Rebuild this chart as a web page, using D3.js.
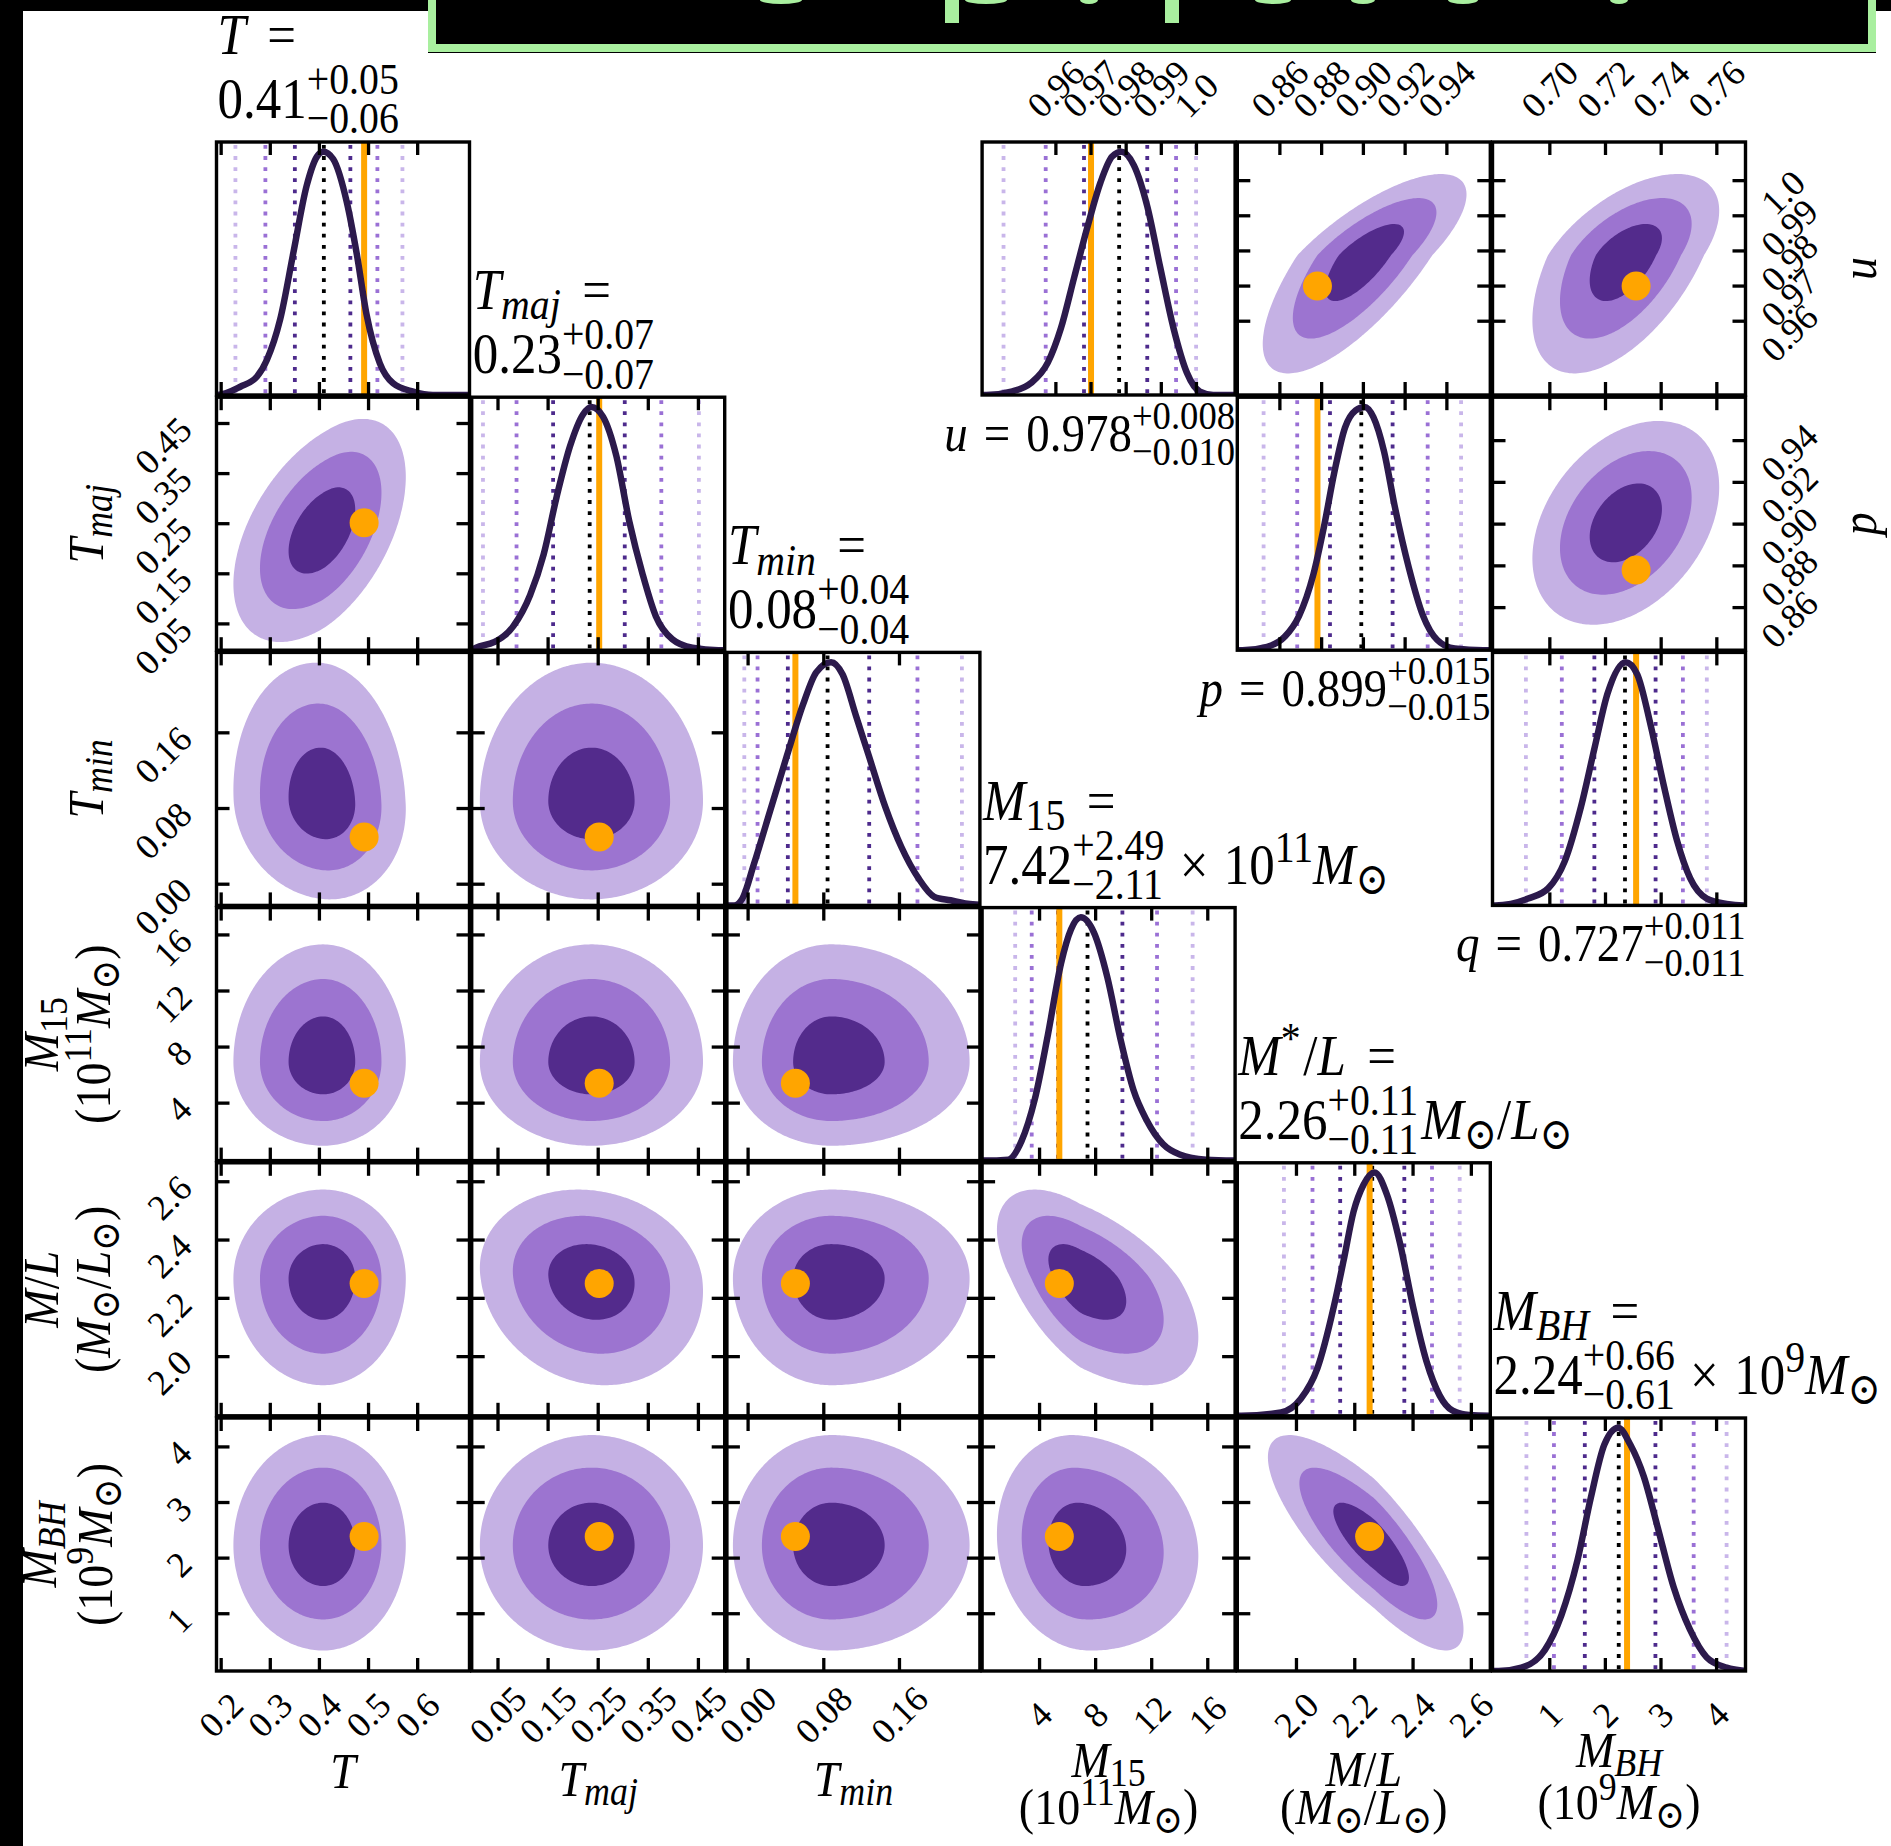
<!DOCTYPE html>
<html>
<head>
<meta charset="utf-8">
<script src="https://cdn.jsdelivr.net/npm/d3@7"></script>
<style>
  html, body { margin: 0; padding: 0; background: #fff; }
  svg { display: block; }
  text { font-family: "Liberation Serif", "DejaVu Serif", serif; fill: #000; }
</style>
</head>
<body>
<svg id="fig" width="1891" height="1846"></svg>
<script>
// ---------------- posterior summaries ----------------
const paramKeys = ["T", "Tmaj", "Tmin", "M15", "ML", "MBH", "u", "p", "q"];
const medians  = [0.409, 0.233, 0.084, 7.42, 2.26, 2.24, 0.978, 0.899, 0.727];
const errHi    = [0.054, 0.070, 0.044, 2.49, 0.11, 0.66, 0.008, 0.015, 0.011];
const errLo    = [0.059, 0.073, 0.042, 2.11, 0.11, 0.61, 0.010, 0.015, 0.011];
const decimals = [2, 2, 2, 2, 2, 2, 3, 3, 3];
// 2-sigma and 3-sigma quantiles
const q2Lo = [0.290, 0.087, 0.010, 3.44, 2.055, 1.075, 0.9571, 0.8683, 0.7043];
const q2Hi = [0.518, 0.376, 0.179, 12.38, 2.465, 3.588, 0.9942, 0.9308, 0.7478];
const q3Lo = [0.229, 0.020, -0.004, 2.26, 1.957, 0.58, 0.9451, 0.8522, 0.6914];
const q3Hi = [0.569, 0.451, 0.226, 14.92, 2.56, 4.18, 0.9999, 0.9468, 0.7564];
// true input values
const truths = [0.491, 0.252, 0.050, 5.41, 2.251, 2.39, 0.970, 0.878, 0.731];

// axis ranges and ticks
const domains = [[0.1905, 0.7055], [-0.0025, 0.5025], [-0.0224, 0.245], [-0.1, 17.95],
                 [1.797, 2.665], [-0.03, 4.52], [0.939, 1.011], [0.8396, 0.9608], [0.6794, 0.7703]];
const tickValues = [[0.2, 0.3, 0.4, 0.5, 0.6], [0.05, 0.15, 0.25, 0.35, 0.45], [0, 0.08, 0.16],
                    [4, 8, 12, 16], [2.0, 2.2, 2.4, 2.6], [1, 2, 3, 4],
                    [0.96, 0.97, 0.98, 0.99, 1.0], [0.86, 0.88, 0.90, 0.92, 0.94], [0.70, 0.72, 0.74, 0.76]];
const tickLabels = [["0.2", "0.3", "0.4", "0.5", "0.6"], ["0.05", "0.15", "0.25", "0.35", "0.45"],
                    ["0.00", "0.08", "0.16"], ["4", "8", "12", "16"], ["2.0", "2.2", "2.4", "2.6"],
                    ["1", "2", "3", "4"], ["0.96", "0.97", "0.98", "0.99", "1.0"],
                    ["0.86", "0.88", "0.90", "0.92", "0.94"], ["0.70", "0.72", "0.74", "0.76"]];

// marginal densities: [value, density relative to peak]
const densT = [[0.1905,0],[0.192,0],[0.239,0.034],[0.273,0.076],[0.293,0.144],[0.320,0.31],[0.347,0.585],
  [0.374,0.86],[0.395,0.98],[0.408,1.0],[0.428,0.97],[0.456,0.79],[0.476,0.58],[0.496,0.33],[0.523,0.13],
  [0.550,0.048],[0.591,0.014],[0.631,0],[0.7055,0]];
const densTmaj = [[-0.0025,0],[0.0055,0.01],[0.042,0.033],[0.081,0.10],[0.114,0.226],[0.141,0.393],[0.167,0.63],
  [0.194,0.84],[0.220,0.97],[0.2365,1.0],[0.2595,0.96],[0.286,0.80],[0.312,0.53],[0.339,0.31],[0.365,0.14],
  [0.398,0.045],[0.438,0.01],[0.49,0],[0.5025,0]];
const densTmin = [[-0.0224,0],[-0.0148,0],[-0.006,0.028],[0.006,0.168],[0.0234,0.39],[0.041,0.615],[0.058,0.825],
  [0.072,0.958],[0.0877,1.0],[0.0998,0.95],[0.114,0.78],[0.1276,0.615],[0.145,0.405],[0.162,0.24],[0.180,0.112],
  [0.197,0.035],[0.214,0.021],[0.232,0.007],[0.245,0.003]];
const densM15 = [[-0.1,0],[0.12,0],[1.77,0.004],[2.71,0.08],[3.65,0.25],[4.59,0.516],[5.53,0.81],[6.24,0.95],
  [6.94,1.0],[7.88,0.937],[8.83,0.755],[9.77,0.50],[10.7,0.29],[11.65,0.165],[12.82,0.067],[14.0,0.025],
  [15.88,0.004],[17.95,0]];
const densML = [[1.797,0],[1.811,0],[1.947,0.014],[2.015,0.07],[2.072,0.196],[2.128,0.448],[2.162,0.64],
  [2.196,0.84],[2.230,0.95],[2.268,1.0],[2.31,0.91],[2.355,0.71],[2.40,0.448],[2.446,0.224],[2.491,0.084],
  [2.536,0.021],[2.593,0.003],[2.665,0]];
const densMBH = [[-0.03,0],[0.08,0],[0.49,0.014],[0.91,0.086],[1.21,0.23],[1.50,0.457],[1.74,0.714],[1.98,0.93],
  [2.23,1.0],[2.45,0.93],[2.69,0.8],[2.93,0.6],[3.23,0.343],[3.52,0.171],[3.82,0.057],[4.18,0.014],[4.52,0]];
const densU = [[0.939,0],[0.9402,0],[0.9473,0.014],[0.9529,0.049],[0.9577,0.133],[0.9614,0.273],[0.9652,0.483],
  [0.969,0.692],[0.9727,0.874],[0.976,0.98],[0.9787,1.0],[0.9822,0.944],[0.986,0.776],[0.9897,0.524],
  [0.9935,0.273],[0.9973,0.091],[1.001,0.014],[1.0048,0],[1.011,0]];
const densP = [[0.8396,0],[0.842,0],[0.8539,0.014],[0.8624,0.056],[0.8692,0.141],[0.876,0.31],[0.8811,0.507],
  [0.8861,0.732],[0.8912,0.915],[0.8963,0.986],[0.9006,1.0],[0.9048,0.958],[0.9099,0.817],[0.915,0.592],
  [0.9218,0.338],[0.9286,0.141],[0.9354,0.042],[0.9438,0.007],[0.9574,0],[0.9608,0]];
const densQ = [[0.6794,0],[0.6804,0],[0.6922,0.028],[0.6994,0.07],[0.7053,0.18],[0.7112,0.406],[0.716,0.644],
  [0.7207,0.87],[0.7273,1.0],[0.7314,0.95],[0.7362,0.742],[0.741,0.49],[0.7457,0.266],[0.7504,0.112],
  [0.7564,0.028],[0.7635,0.006],[0.7695,0],[0.7703,0]];
const densities = [densT, densTmaj, densTmin, densM15, densML, densMBH, densU, densP, densQ];

// joint credible-region widths (below / above the peak) and pair correlations
const spreadLo = [0.060, 0.073, 0.034, 1.96, 0.12, 0.62, 0.0110, 0.016, 0.011];
const spreadHi = [0.055, 0.073, 0.048, 2.75, 0.10, 0.65, 0.0076, 0.016, 0.011];
const pairX   = [0, 0, 1, 0, 1, 2, 0, 1, 2, 3, 0, 1, 2, 3, 4, 7, 8, 8];
const pairY   = [1, 2, 2, 3, 3, 3, 4, 4, 4, 4, 5, 5, 5, 5, 5, 6, 6, 7];
const pairRho = [0.48, -0.08, 0.0, 0.0, 0.0, 0.0, 0.0, -0.12, 0.0, -0.55, 0.0, 0.0, 0.0, -0.1, -0.8, 0.75, 0.55, 0.35];
const contourRadii = [1.18, 2.15, 3.05];   // 50 / 90 / 99 % regions

// ---------------- layout ----------------
const X0 = 216.5, Y0 = 142, STEP = 255.2, PW = 253, PH = 253;
const colOf = [0, 1, 2, 3, 4, 5, 3, 4, 5];
const rowOf = [0, 1, 2, 3, 4, 5, 0, 1, 2];
const colX = c => X0 + c * STEP;
const rowY = r => Y0 + r * STEP;

const fills = ["#c5b1e4", "#9c74d0", "#532b8c"];
const quantColors = ["#c9b6ea", "#9a70d5", "#4d2a8c", "#000000", "#4d2a8c", "#9a70d5", "#c9b6ea"];
const curveColor = "#2c1a4c";
const truthColor = "#ffa500";

const svg = d3.select("#fig");
svg.append("rect").attr("width", 1891).attr("height", 1846).attr("fill", "#fff");
const defs = svg.append("defs");
const layerPanels = svg.append("g");
const layerText = svg.append("g");

// text measuring helper
const meas = svg.append("text").attr("x", -2000).attr("y", -2000);
function tw(str, size, it) {
  meas.attr("font-size", size).attr("font-style", it ? "italic" : "normal").text(str);
  return meas.node().getComputedTextLength();
}
const SCRIPT = 0.78;
function layoutMath(pieces, size) {
  const out = []; let cx = 0;
  for (const p of pieces) {
    if (p.gap !== undefined) { cx += p.gap * size; continue; }
    if (p.stack) {
      const ss = size * SCRIPT;
      const a = tw(p.stack[0], ss, false), b = tw(p.stack[1], ss, false);
      out.push({ t: p.stack[0], x: cx, y: -0.42 * size, fs: ss, it: false });
      out.push({ t: p.stack[1], x: cx, y: 0.27 * size, fs: ss, it: false });
      cx += Math.max(a, b); continue;
    }
    const fs = p.k ? size * SCRIPT : size;
    const y = p.k === "sup" ? -0.38 * size : p.k === "sub" ? 0.18 * size : 0;
    out.push({ t: p.t, x: cx, y, fs, it: !!p.it });
    cx += tw(p.t, fs, !!p.it);
  }
  return { items: out, width: cx };
}
// one <text> element per expression, each piece a positioned tspan
function drawMath(parent, pieces, size, x, y, anchor, rot, stretch) {
  const L = layoutMath(pieces, size);
  const off = anchor === "end" ? -L.width : anchor === "middle" ? -L.width / 2 : 0;
  const tr = `translate(${x},${y})` + (rot ? ` rotate(${rot})` : "") + (stretch ? ` scale(1,${stretch})` : "");
  const t = parent.append("text").attr("transform", tr);
  t.selectAll("tspan").data(L.items).join("tspan")
    .attr("x", d => d.x + off).attr("y", d => d.y)
    .attr("font-size", d => d.fs).attr("font-style", d => d.it ? "italic" : "normal")
    .text(d => d.t);
  return t;
}

function xScale(k) { const c = colOf[k]; return d3.scaleLinear().domain(domains[k]).range([colX(c), colX(c) + PW]); }
function yScale(k) { const r = rowOf[k]; return d3.scaleLinear().domain(domains[k]).range([rowY(r) + PH, rowY(r)]); }
function modeOf(k) { return d3.greatest(densities[k], d => d[1])[0]; }

let clipId = 0;
function panelGroup(px, py) {
  const id = "clip" + (clipId++);
  defs.append("clipPath").attr("id", id).append("rect").attr("x", px).attr("y", py).attr("width", PW).attr("height", PH);
  const g = layerPanels.append("g");
  const inner = g.append("g").attr("clip-path", `url(#${id})`);
  return { g, inner };
}
function drawTicks(g, px, py, xk, yk) {
  const TL = 13, SW = 3.3;
  const xs = xScale(xk);
  tickValues[xk].forEach(t => {
    const x = xs(t);
    g.append("line").attr("x1", x).attr("x2", x).attr("y1", py).attr("y2", py + TL).attr("stroke", "#000").attr("stroke-width", SW);
    g.append("line").attr("x1", x).attr("x2", x).attr("y1", py + PH - TL).attr("y2", py + PH).attr("stroke", "#000").attr("stroke-width", SW);
  });
  if (yk !== null) {
    const ys = yScale(yk);
    tickValues[yk].forEach(t => {
      const y = ys(t);
      g.append("line").attr("x1", px).attr("x2", px + TL).attr("y1", y).attr("y2", y).attr("stroke", "#000").attr("stroke-width", SW);
      g.append("line").attr("x1", px + PW - TL).attr("x2", px + PW).attr("y1", y).attr("y2", y).attr("stroke", "#000").attr("stroke-width", SW);
    });
  }
  g.append("rect").attr("x", px).attr("y", py).attr("width", PW).attr("height", PH)
    .attr("fill", "none").attr("stroke", "#000").attr("stroke-width", 3.4);
}

// ---------------- 1-D marginal panels ----------------
function drawDiag(k) {
  const px = colX(colOf[k]), py = rowY(rowOf[k]);
  const { g, inner } = panelGroup(px, py);
  const xs = xScale(k);
  const ys = d3.scaleLinear().domain([0, 1.04]).range([py + PH, py]);
  const qv = [q3Lo[k], q2Lo[k], medians[k] - errLo[k], medians[k], medians[k] + errHi[k], q2Hi[k], q3Hi[k]];
  inner.selectAll("line.q").data(qv).join("line").attr("class", "q")
    .attr("x1", d => xs(d)).attr("x2", d => xs(d)).attr("y1", py + 3).attr("y2", py + PH)
    .attr("stroke", (d, i) => quantColors[i]).attr("stroke-width", 3.8).attr("stroke-dasharray", "3.8 7.3");
  inner.append("line").attr("x1", xs(truths[k])).attr("x2", xs(truths[k])).attr("y1", py).attr("y2", py + PH)
    .attr("stroke", truthColor).attr("stroke-width", 6);
  inner.append("path").datum(densities[k])
    .attr("d", d3.line().x(d => xs(d[0])).y(d => ys(d[1])).curve(d3.curveMonotoneX))
    .attr("fill", "none").attr("stroke", curveColor).attr("stroke-width", 6.5).attr("stroke-linejoin", "round");
  drawTicks(g, px, py, k, null);
}

// ---------------- 2-D joint panels ----------------
function drawPair(i) {
  const xk = pairX[i], yk = pairY[i], rho = pairRho[i];
  const px = colX(colOf[xk]), py = rowY(rowOf[yk]);
  const { g, inner } = panelGroup(px, py);
  const xs = xScale(xk), ys = yScale(yk);
  const mx = modeOf(xk), my = modeOf(yk);
  const n = 120;
  const vals = new Float64Array(n * n);
  for (let j = 0; j < n; j++) {
    const yv = ys.invert(py + (j + 0.5) * PH / n);
    const b = (yv - my) / (yv < my ? spreadLo[yk] : spreadHi[yk]);
    for (let c = 0; c < n; c++) {
      const xv = xs.invert(px + (c + 0.5) * PW / n);
      const a = (xv - mx) / (xv < mx ? spreadLo[xk] : spreadHi[xk]);
      const q = (a * a - 2 * rho * a * b + b * b) / (1 - rho * rho);
      vals[j * n + c] = Math.exp(-q / 2);
    }
  }
  const thr = contourRadii.map(r => Math.exp(-r * r / 2)).sort(d3.ascending);
  const cs = d3.contours().size([n, n]).thresholds(thr)(vals);
  const proj = d3.geoTransform({ point: function (x, y) { this.stream.point(px + x * PW / n, py + y * PH / n); } });
  const path = d3.geoPath(proj);
  inner.selectAll("path.c").data(cs).join("path").attr("class", "c")
    .attr("d", path).attr("fill", (d, idx) => fills[idx]);
  inner.append("circle").attr("cx", xs(truths[xk])).attr("cy", ys(truths[yk])).attr("r", 14.5).attr("fill", truthColor);
  drawTicks(g, px, py, xk, yk);
}

for (let k = 0; k < 9; k++) drawDiag(k);
for (let i = 0; i < pairX.length; i++) drawPair(i);

// ---------------- tick labels ----------------
const TF = 36;
// bottom row
for (let k = 0; k < 6; k++) {
  const xs = xScale(k);
  tickValues[k].forEach((t, i) => {
    layerText.append("text").attr("transform", `translate(${xs(t)},${rowY(5) + PH + 44}) rotate(-45)`)
      .attr("text-anchor", "middle").attr("dominant-baseline", "central").attr("font-size", TF).text(tickLabels[k][i]);
  });
}
// left column
for (let k = 1; k < 6; k++) {
  const ys = yScale(k);
  tickValues[k].forEach((t, i) => {
    layerText.append("text").attr("transform", `translate(${colX(0) - 31},${ys(t)}) rotate(-45)`)
      .attr("text-anchor", "end").attr("dominant-baseline", "central").attr("font-size", TF).text(tickLabels[k][i]);
  });
}
// top of the upper block
for (let k = 6; k < 9; k++) {
  const xs = xScale(k);
  tickValues[k].forEach((t, i) => {
    const half = 0.3536 * (tw(tickLabels[k][i], TF, false) + 0.68 * TF);
    layerText.append("text").attr("transform", `translate(${xs(t)},${rowY(0) - 22 - half}) rotate(-45)`)
      .attr("text-anchor", "middle").attr("dominant-baseline", "central").attr("font-size", TF).text(tickLabels[k][i]);
  });
}
// right side of the upper block
for (let k = 6; k < 8; k++) {
  const ys = yScale(k);
  tickValues[k].forEach((t, i) => {
    const half = 0.3536 * (tw(tickLabels[k][i], TF, false) + 0.68 * TF);
    layerText.append("text").attr("transform", `translate(${colX(5) + PW + 13 + half},${ys(t) + 12}) rotate(-45)`)
      .attr("text-anchor", "middle").attr("dominant-baseline", "central").attr("font-size", TF).text(tickLabels[k][i]);
  });
}

// ---------------- axis labels ----------------
const sun = "\u2299";
const axisLabels = [
  [[{ t: "T", it: 1 }]],
  [[{ t: "T", it: 1 }, { t: "maj", it: 1, k: "sub" }]],
  [[{ t: "T", it: 1 }, { t: "min", it: 1, k: "sub" }]],
  [[{ t: "M", it: 1 }, { t: "15", k: "sub" }],
   [{ t: "(" }, { t: "10" }, { t: "11", k: "sup" }, { t: "M", it: 1 }, { t: sun, k: "sub" }, { t: ")" }]],
  [[{ t: "M", it: 1 }, { t: "/" }, { t: "L", it: 1 }],
   [{ t: "(" }, { t: "M", it: 1 }, { t: sun, k: "sub" }, { t: "/" }, { t: "L", it: 1 }, { t: sun, k: "sub" }, { t: ")" }]],
  [[{ t: "M", it: 1 }, { t: "BH", it: 1, k: "sub" }],
   [{ t: "(" }, { t: "10" }, { t: "9", k: "sup" }, { t: "M", it: 1 }, { t: sun, k: "sub" }, { t: ")" }]],
  [[{ t: "u", it: 1 }]],
  [[{ t: "p", it: 1 }]]
];
const AF = 46, AS = 1.1;
const bottomBase = [[1788], [1796], [1796], [1777, 1824], [1786, 1824], [1767, 1819]];
const leftBase = [null, [103], [103], [58, 110], [58, 110], [56, 112]];
for (let k = 0; k < 6; k++) {
  const cx = colX(k) + PW / 2;
  axisLabels[k].forEach((line, li) => drawMath(layerText, line, AF, cx, bottomBase[k][li], "middle", 0, AS));
}
for (let k = 1; k < 6; k++) {
  const cy = rowY(k) + PH / 2;
  axisLabels[k].forEach((line, li) => drawMath(layerText, line, AF, leftBase[k][li], cy, "middle", -90, AS));
}
for (let k = 6; k < 8; k++) {
  const cy = rowY(rowOf[k]) + PH / 2;
  drawMath(layerText, axisLabels[k][0], AF, 1876, cy, "middle", -90, AS);
}

// ---------------- titles ----------------
const titleNames = [
  [{ t: "T", it: 1 }, { gap: 0.42 }, { t: "=" }],
  [{ t: "T", it: 1 }, { t: "maj", it: 1, k: "sub" }, { gap: 0.42 }, { t: "=" }],
  [{ t: "T", it: 1 }, { t: "min", it: 1, k: "sub" }, { gap: 0.42 }, { t: "=" }],
  [{ t: "M", it: 1 }, { t: "15", k: "sub" }, { gap: 0.42 }, { t: "=" }],
  [{ t: "M", it: 1 }, { t: "*", k: "sup" }, { gap: 0.05 }, { t: "/" }, { t: "L", it: 1 }, { gap: 0.42 }, { t: "=" }],
  [{ t: "M", it: 1 }, { t: "BH", it: 1, k: "sub" }, { gap: 0.42 }, { t: "=" }],
  [{ t: "u", it: 1 }, { gap: 0.34 }, { t: "=" }],
  [{ t: "p", it: 1 }, { gap: 0.34 }, { t: "=" }],
  [{ t: "q", it: 1 }, { gap: 0.34 }, { t: "=" }]
];
const titleUnits = [[], [], [],
  [{ gap: 0.3 }, { t: "\u00d7" }, { gap: 0.3 }, { t: "10" }, { t: "11", k: "sup" }, { t: "M", it: 1 }, { t: sun, k: "sub" }],
  [{ gap: 0.06 }, { t: "M", it: 1 }, { t: sun, k: "sub" }, { t: "/" }, { t: "L", it: 1 }, { t: sun, k: "sub" }],
  [{ gap: 0.3 }, { t: "\u00d7" }, { gap: 0.3 }, { t: "10" }, { t: "9", k: "sup" }, { t: "M", it: 1 }, { t: sun, k: "sub" }],
  [], [], []];
function valuePieces(k) {
  const d = decimals[k];
  return [{ t: medians[k].toFixed(d) }, { stack: ["+" + errHi[k].toFixed(d), "\u2212" + errLo[k].toFixed(d)] }];
}
const TS = 1.12;
for (let k = 0; k < 6; k++) {
  const x = colX(colOf[k]) + 1, top = rowY(rowOf[k]);
  drawMath(layerText, titleNames[k], 51, x, top - 88, "start", 0, TS);
  drawMath(layerText, valuePieces(k).concat(titleUnits[k]), 51, x, top - 24, "start", 0, TS);
}
for (let k = 6; k < 9; k++) {
  const xr = colX(colOf[k]) + PW, yb = rowY(rowOf[k]) + PH + 56;
  drawMath(layerText, titleNames[k].concat([{ gap: 0.34 }], valuePieces(k)), 47, xr, yb, "end", 0, TS);
}

// ---------------- page frame and heading box ----------------
const frame = svg.append("g");
frame.append("rect").attr("x", 0).attr("y", 0).attr("width", 1891).attr("height", 11).attr("fill", "#000");
frame.append("rect").attr("x", 0).attr("y", 0).attr("width", 23).attr("height", 1846).attr("fill", "#000");
frame.append("rect").attr("x", 428).attr("y", 0).attr("width", 1448).attr("height", 53).attr("fill", "#000");
frame.append("rect").attr("x", 432).attr("y", -12).attr("width", 1440).attr("height", 60)
  .attr("fill", "none").attr("stroke", "#a9ef9f").attr("stroke-width", 8);
// lower edges of the heading glyphs peeking into the box
[[781, 21], [986, 21], [1089, 9], [1273, 18], [1363, 12], [1463, 15], [1619, 9]].forEach(([cx, rx]) =>
  frame.append("ellipse").attr("cx", cx).attr("cy", 0).attr("rx", rx).attr("ry", 4).attr("fill", "#a9ef9f"));
[952, 1172].forEach(cx =>
  frame.append("rect").attr("x", cx - 7).attr("y", 0).attr("width", 14).attr("height", 23).attr("fill", "#a9ef9f"));
meas.remove();
</script>
</body>
</html>
